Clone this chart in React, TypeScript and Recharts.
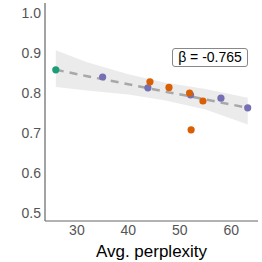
import { ComposedChart, Area, Line, Scatter, XAxis, YAxis } from 'recharts';

// regression band + fit
const bandX = [25.9, 32, 40, 47, 55, 63.2];
const bandLow = [0.815, 0.806, 0.796, 0.782, 0.759, 0.721];
const bandHigh = [0.907, 0.877, 0.847, 0.826, 0.81, 0.788];
const fitY = [0.858, 0.842, 0.822, 0.804, 0.784, 0.763];

// points by group
const greenPts = [{ x: 25.9, y: 0.858 }];
const purplePts = [
  { x: 35.0, y: 0.84 },
  { x: 43.8, y: 0.813 },
  { x: 52.1, y: 0.795 },
  { x: 58.0, y: 0.787 },
  { x: 63.2, y: 0.763 },
];
const orangePts = [
  { x: 44.2, y: 0.828 },
  { x: 47.9, y: 0.814 },
  { x: 51.9, y: 0.8 },
  { x: 54.5, y: 0.78 },
  { x: 52.2, y: 0.708 },
];

const xTicks = [30, 40, 50, 60];
const yTicks = [0.5, 0.6, 0.7, 0.8, 0.9, 1.0];
const betaLabel = 'β = -0.765';

const band = bandX.map((x, i) => ({ x, range: [bandLow[i], bandHigh[i]], fit: fitY[i] }));

const dot = (color: string) => (p: any) => <circle cx={p.cx} cy={p.cy} r={3.6} fill={color} />;

const font = 'Liberation Sans, Arial, sans-serif';
const tickStyle = { fontSize: 14, fill: '#555', fontFamily: font };

export default function App() {
  return (
    <div style={{ position: 'absolute', left: 0, top: 0, width: 262, height: 262, background: '#fff' }}>
      <ComposedChart width={262} height={262} data={band} margin={{ top: 3, right: 4, bottom: 0, left: 0 }}>
        <XAxis
          dataKey="x"
          type="number"
          domain={[23.8, 65.2]}
          ticks={xTicks}
          allowDataOverflow
          tickLine={false}
          tickSize={0}
          tickMargin={4}
          tick={tickStyle}
          height={41}
          axisLine={{ stroke: '#666', strokeWidth: 1.2 }}
          label={{
            value: 'Avg. perplexity',
            position: 'insideBottom',
            offset: 5,
            style: { fontSize: 17, fill: '#000', fontFamily: font },
          }}
        />
        <YAxis
          type="number"
          domain={[0.48, 1.025]}
          ticks={yTicks}
          allowDataOverflow
          tickFormatter={(v: number) => v.toFixed(1)}
          tickLine={false}
          tickSize={0}
          tickMargin={4}
          tick={tickStyle}
          width={45}
          axisLine={{ stroke: '#666', strokeWidth: 1.2 }}
        />
        <Area dataKey="range" type="linear" fill="#e6e6e6" fillOpacity={0.8} stroke="none" isAnimationActive={false} />
        <Line
          dataKey="fit"
          type="linear"
          stroke="#a8a8a8"
          strokeWidth={2.5}
          strokeDasharray="8 6"
          dot={false}
          activeDot={false}
          isAnimationActive={false}
        />
        <Scatter data={purplePts} dataKey="y" shape={dot('#7570b3')} isAnimationActive={false} />
        <Scatter data={orangePts} dataKey="y" shape={dot('#d95f02')} isAnimationActive={false} />
        <Scatter data={greenPts} dataKey="y" shape={dot('#1b9e77')} isAnimationActive={false} />
      </ComposedChart>
      <div
        style={{
          position: 'absolute',
          left: 172,
          top: 48,
          width: 76,
          height: 19,
          boxSizing: 'border-box',
          border: '1px solid #888',
          borderRadius: 3,
          background: '#fff',
          fontFamily: font,
          fontSize: 14,
          lineHeight: '17px',
          textAlign: 'center',
          color: '#000',
        }}
      >
        {betaLabel}
      </div>
    </div>
  );
}
